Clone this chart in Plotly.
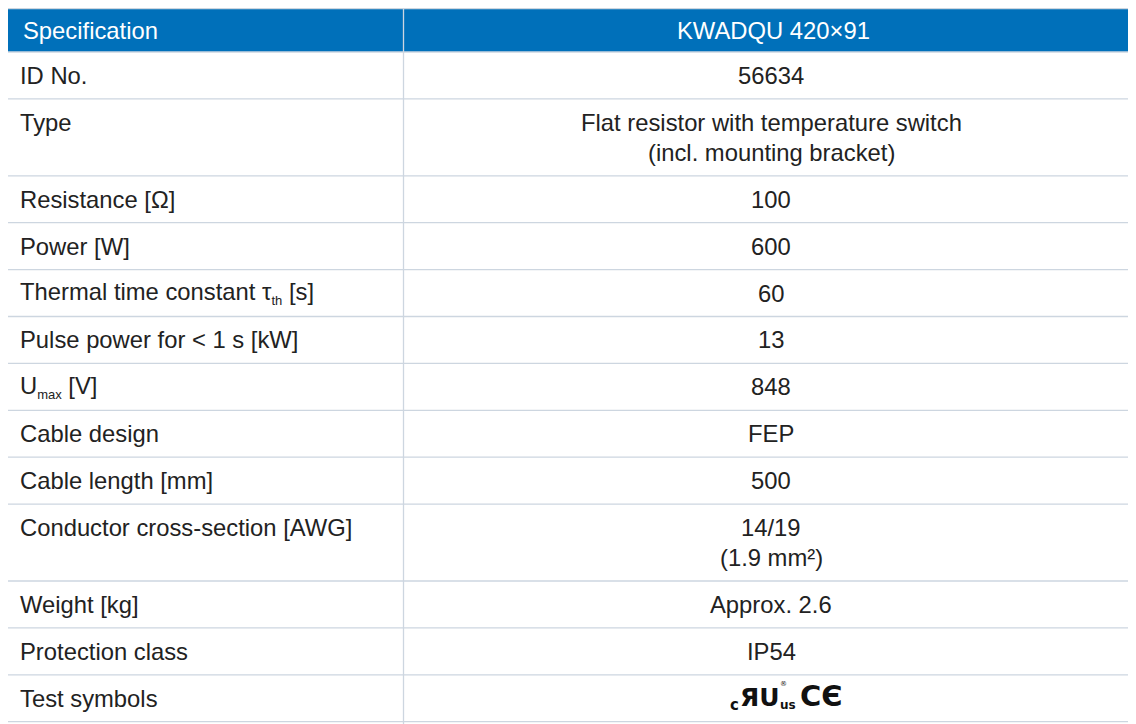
import plotly.graph_objects as go

# ---- data ----
header = ["Specification", "KWADQU 420×91"]
specs = [
    "ID No.",
    "Type",
    "Resistance [Ω]",
    "Power [W]",
    "Thermal time constant τ<sub><span style='font-size:13px'>th</span></sub> [s]",
    "Pulse power for &lt; 1 s [kW]",
    "U<sub><span style='font-size:13px'>max</span></sub> [V]",
    "Cable design",
    "Cable length [mm]",
    "Conductor cross-section [AWG]",
    "Weight [kg]",
    "Protection class",
    "Test symbols",
]
values = [
    "56634",
    "Flat resistor with temperature switch<br>(incl. mounting bracket)",
    "100",
    "600",
    "60",
    "13",
    "848",
    "FEP",
    "500",
    "14/19<br>(1.9 mm²)",
    "Approx. 2.6",
    "IP54",
    "",
]

# ---- style ----
W, H = 1136, 724
OFF = 8  # page body margin around the plot div
FONT = "Liberation Sans, Arial, sans-serif"
FS = 23.8
HEADER_BG = "#0070ba"
GRID = "#cdd6e0"
TEXT = "#222222"
TOP = 8.7 - OFF
HEADER_H = 43.3
ROW_H = 46.9
LINE_H = 30
X_LEFT = 7 - OFF
X_DIV = 403.5 - OFF
X_RIGHT = 1140
VAL_CX = 771 - OFF

fig = go.Figure()
shapes = []
annotations = []

# header
shapes.append(dict(type="rect", xref="x", yref="y", x0=X_LEFT, x1=X_RIGHT,
                   y0=TOP, y1=TOP + HEADER_H, fillcolor=HEADER_BG, line_width=0, layer="below"))
annotations.append(dict(x=21 - OFF, y=TOP + HEADER_H / 2, text=header[0], xanchor="left",
                        yanchor="middle", showarrow=False,
                        font=dict(family=FONT, size=FS, color="white")))
annotations.append(dict(x=VAL_CX + 2, y=TOP + HEADER_H / 2, text=header[1], xanchor="center",
                        yanchor="middle", showarrow=False,
                        font=dict(family=FONT, size=FS, color="white")))

# rows
y = TOP + HEADER_H
row_tops = [TOP, y]
for lab, val in zip(specs, values):
    lines = val.split("<br>") if val else [""]
    h = ROW_H + LINE_H * (len(lines) - 1)
    annotations.append(dict(x=17.5 - OFF, y=y + ROW_H / 2, text=lab, xanchor="left",
                            yanchor="middle", showarrow=False,
                            font=dict(family=FONT, size=FS, color=TEXT)))
    for i, ln in enumerate(lines):
        if ln:
            annotations.append(dict(x=VAL_CX, y=y + ROW_H / 2 + LINE_H * i, text=ln,
                                    xanchor="center", yanchor="middle", showarrow=False,
                                    font=dict(family=FONT, size=FS, color=TEXT)))
    y += h
    row_tops.append(y)

# horizontal grid lines
for yy in row_tops:
    shapes.append(dict(type="line", xref="x", yref="y", x0=X_LEFT, x1=X_RIGHT,
                       y0=yy, y1=yy, line=dict(color=GRID, width=1.3)))
# vertical lines
for xx in (X_LEFT, X_DIV):
    shapes.append(dict(type="line", xref="x", yref="y", x0=xx, x1=xx,
                       y0=TOP, y1=H + 5, line=dict(color=GRID, width=1.3)))

# test symbols (cULus + CE), last row
ty = row_tops[-2] + ROW_H / 2
sym_font = "DejaVu Sans, sans-serif"
annotations += [
    dict(x=734 - OFF, y=ty + 7, text="<b>c</b>", xanchor="center", yanchor="middle",
         showarrow=False, font=dict(family=sym_font, size=15, color="#111")),
    dict(x=760 - OFF, y=ty - 1, text="<b>ЯU</b>", xanchor="center", yanchor="middle",
         showarrow=False, font=dict(family=sym_font, size=25, color="#111")),
    dict(x=788 - OFF, y=ty + 7, text="<b>us</b>", xanchor="center", yanchor="middle",
         showarrow=False, font=dict(family=sym_font, size=12, color="#111")),
    dict(x=783 - OFF, y=ty - 14, text="®", xanchor="center", yanchor="middle",
         showarrow=False, font=dict(family=sym_font, size=7, color="#111")),
    dict(x=821 - OFF, y=ty - 2, text="<b>CЄ</b>", xanchor="center", yanchor="middle",
         showarrow=False, font=dict(family=sym_font, size=29, color="#111")),
]

fig.update_layout(
    width=W, height=H, autosize=False,
    margin=dict(l=0, r=0, t=0, b=0),
    paper_bgcolor="white", plot_bgcolor="white",
    xaxis=dict(range=[0, W], visible=False, fixedrange=True),
    yaxis=dict(range=[H, 0], visible=False, fixedrange=True),
    shapes=shapes, annotations=annotations, showlegend=False,
)
fig.write_html("out.html", config={"displayModeBar": False})
